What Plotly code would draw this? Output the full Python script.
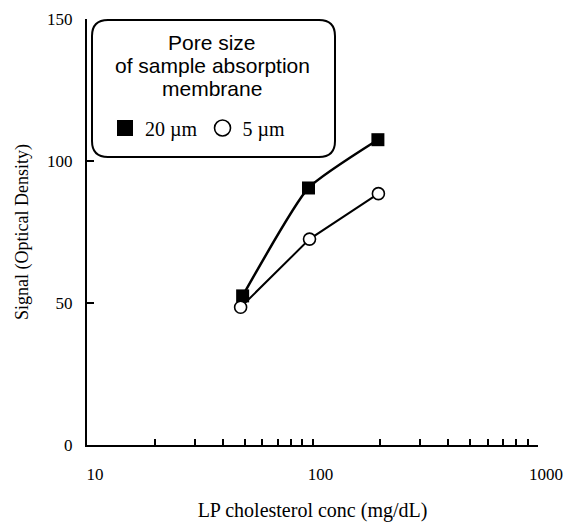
import plotly.graph_objects as go

# ---- data ----
conc_20um = [49, 96, 195]
signal_20um = [52.5, 90.5, 107.5]
conc_5um = [48, 97, 196]
signal_5um = [48.5, 72.5, 88.5]

series_names = ["20 µm", "5 µm"]
legend_title_lines = ["Pore size", "of sample absorption", "membrane"]

x_tick_vals = [10, 20, 30, 40, 50, 60, 70, 80, 90,
               100, 200, 300, 400, 500, 600, 700, 800, 900, 1000]
x_tick_text = ["10", "", "", "", "", "", "", "", "",
               "100", "", "", "", "", "", "", "", "", "1000"]
y_tick_vals = [0, 50, 100, 150]

# ---- geometry (px) ----
W, H = 567, 532
L, R, T, B = 87, 29, 19, 87
PW, PH = W - L - R, H - T - B

def px_x(p):
    return (p - L) / PW

def px_y(p):
    return (H - B - p) / PH

SERIF = "Liberation Serif, Times New Roman, serif"
SANS = "Liberation Sans, Arial, sans-serif"

fig = go.Figure()

fig.add_trace(go.Scatter(
    x=conc_20um, y=signal_20um, mode="lines+markers",
    line=dict(color="black", width=2.5, shape="spline", smoothing=0.5),
    marker=dict(symbol="square", size=13, color="black"),
    showlegend=False, name=series_names[0]))
fig.add_trace(go.Scatter(
    x=conc_5um, y=signal_5um, mode="lines+markers",
    line=dict(color="black", width=2),
    marker=dict(symbol="circle", size=12, color="white",
                line=dict(color="black", width=1.6)),
    showlegend=False, name=series_names[1]))

# legend entries (markers only)
fig.add_trace(go.Scatter(
    x=[None], y=[None], mode="markers", name=series_names[0],
    marker=dict(symbol="square", size=16, color="black")))
fig.add_trace(go.Scatter(
    x=[None], y=[None], mode="markers", name=series_names[1],
    marker=dict(symbol="circle", size=16, color="white",
                line=dict(color="black", width=1.6))))

# rounded legend box
x0, x1 = px_x(92), px_x(335)
y0, y1 = px_y(157), px_y(20)
rx, ry = 16 / PW, 16 / PH
path = (f"M {x0+rx},{y1} L {x1-rx},{y1} Q {x1},{y1} {x1},{y1-ry} "
        f"L {x1},{y0+ry} Q {x1},{y0} {x1-rx},{y0} "
        f"L {x0+rx},{y0} Q {x0},{y0} {x0},{y0+ry} "
        f"L {x0},{y1-ry} Q {x0},{y1} {x0+rx},{y1} Z")
fig.add_shape(type="path", path=path, xref="paper", yref="paper",
              line=dict(color="black", width=2), fillcolor="white", layer="above")

for txt, cy in zip(legend_title_lines, [42, 65, 88]):
    fig.add_annotation(text=txt, x=px_x(212), y=px_y(cy), xref="paper", yref="paper",
                       showarrow=False, xanchor="center", yanchor="middle",
                       font=dict(family=SANS, size=21, color="black"))

fig.update_layout(
    width=W, height=H,
    margin=dict(l=L, r=R, t=T, b=B, autoexpand=False),
    paper_bgcolor="white", plot_bgcolor="white",
    showlegend=True,
    legend=dict(orientation="h", x=px_x(105), y=px_y(128),
                xanchor="left", yanchor="middle",
                bgcolor="rgba(0,0,0,0)", borderwidth=0,
                itemsizing="trace",
                font=dict(family=SERIF, size=20, color="black")),
    xaxis=dict(type="log", range=[1, 3],
               tickvals=x_tick_vals, ticktext=x_tick_text,
               ticks="inside", ticklen=6, tickwidth=1.5, tickcolor="black",
               showline=True, linecolor="black", linewidth=2,
               showgrid=False, zeroline=False,
               ticklabelstandoff=13, ticklabelshift=8,
               tickfont=dict(family=SERIF, size=17, color="black"),
               title=dict(text="LP cholesterol conc (mg/dL)", standoff=20,
                          font=dict(family=SERIF, size=20, color="black"))),
    yaxis=dict(range=[0, 150], tickvals=y_tick_vals,
               ticks="inside", ticklen=7, tickwidth=1.5, tickcolor="black",
               showline=True, linecolor="black", linewidth=2,
               showgrid=False, zeroline=False,
               ticklabelstandoff=9,
               tickfont=dict(family=SERIF, size=17, color="black"),
               title=dict(text="Signal (Optical Density)", standoff=14,
                          font=dict(family=SERIF, size=18, color="black"))),
)

fig.write_html("out.html")
